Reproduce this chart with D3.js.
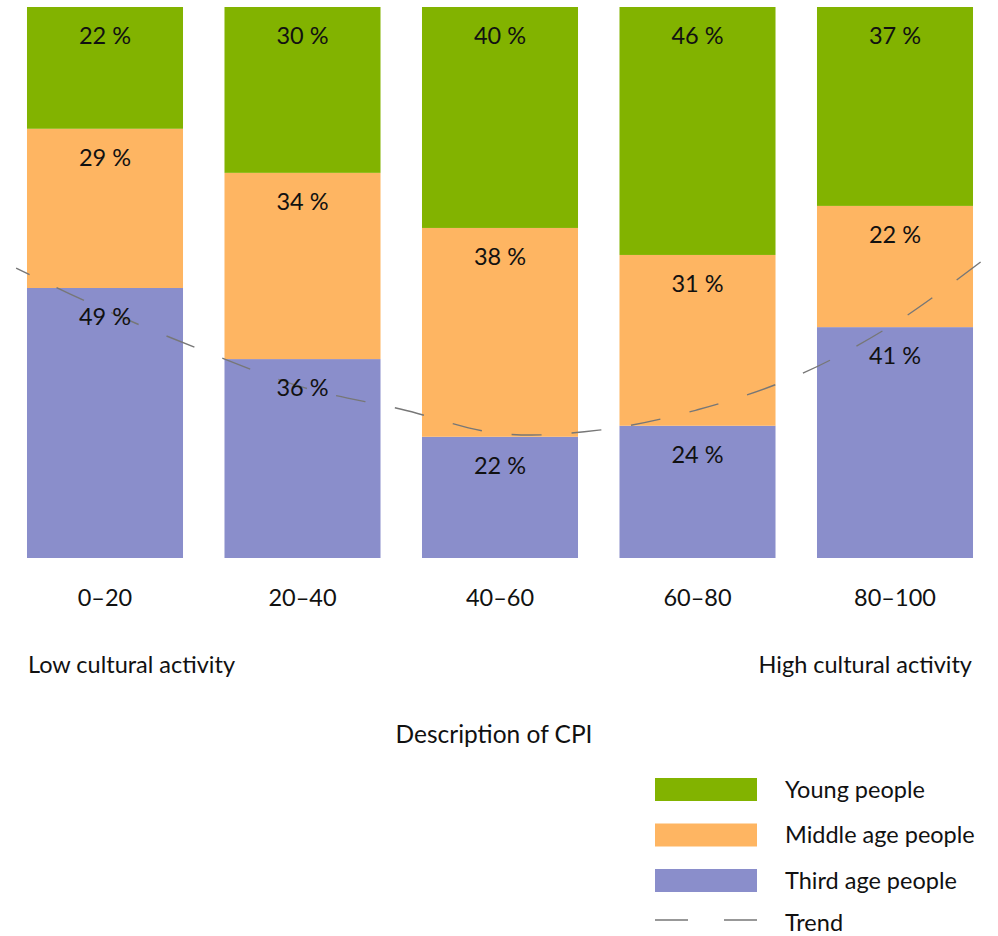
<!DOCTYPE html>
<html>
<head>
<meta charset="utf-8">
<script src="https://cdn.jsdelivr.net/npm/d3@7"></script>
<style>
  body { margin: 0; background: #fff; }
  svg text { font-family: Lato, "Noto Sans", sans-serif; fill: #111; font-size: 23.5px; }
</style>
</head>
<body>
<div id="viz"></div>
<script>
var width = 998;
var height = 936;

// data
var categories = ['0\u201320', '20\u201340', '40\u201360', '60\u201380', '80\u2013100'];
// printed labels
var young = [22, 30, 40, 46, 37];
var middle = [29, 34, 38, 31, 22];
var third = [49, 36, 22, 24, 41];
// segment heights as drawn (percent of bar)
var youngShare = [22.1, 30.1, 40.1, 45, 36.1];
var middleShare = [28.9, 33.8, 37.9, 31, 22];
var thirdShare = [49, 36.1, 22, 24, 41.9];

var seriesNames = ['Young people', 'Middle age people', 'Third age people'];
var seriesColors = ['#82b300', '#feb562', '#8a8ecb'];

// trend line, sampled along category index
var trendIndex = [-0.45, 0, 0.5, 1, 1.5, 2, 2.5, 3, 3.5, 4, 4.48];
var trendValues = [52.6, 45, 37.6, 31, 27, 22.6, 23.2, 26.9, 33, 42.6, 55];

var plotTop = 7, plotBottom = 558;

var svg = d3.select('#viz').append('svg')
  .attr('width', width)
  .attr('height', height);

var x = d3.scaleBand()
  .domain(categories)
  .range([6.25, 993.75])
  .paddingInner(0.21)
  .paddingOuter(0.105);

var y = d3.scaleLinear()
  .domain([0, 100])
  .range([plotBottom, plotTop]);

var rows = categories.map(function (c, i) {
  var total = youngShare[i] + middleShare[i] + thirdShare[i];
  return { cat: c,
    young: youngShare[i] * 100 / total,
    middle: middleShare[i] * 100 / total,
    third: thirdShare[i] * 100 / total,
    labels: { young: young[i], middle: middle[i], third: third[i] } };
});

var keys = ['third', 'middle', 'young'];
var keyColor = { young: seriesColors[0], middle: seriesColors[1], third: seriesColors[2] };

var stacked = d3.stack().keys(keys)(rows);

var layers = svg.selectAll('g.layer')
  .data(stacked).enter()
  .append('g')
  .attr('class', 'layer')
  .style('fill', function (d) { return keyColor[d.key]; });

layers.selectAll('rect')
  .data(function (d) { return d; }).enter()
  .append('rect')
  .attr('x', function (d) { return x(d.data.cat); })
  .attr('y', function (d) { return y(d[1]); })
  .attr('width', x.bandwidth())
  .attr('height', function (d) { return y(d[0]) - y(d[1]); });

// trend
var xi = d3.scaleLinear()
  .domain([0, 4])
  .range([x(categories[0]) + x.bandwidth() / 2, x(categories[4]) + x.bandwidth() / 2]);

var line = d3.line()
  .x(function (d, i) { return xi(trendIndex[i]); })
  .y(function (d) { return y(d); })
  .curve(d3.curveCatmullRom);

svg.append('path')
  .datum(trendValues)
  .attr('d', line)
  .style('fill', 'none')
  .style('stroke', '#777')
  .style('stroke-width', 1.4)
  .style('stroke-dasharray', '30 30')
  .style('stroke-dashoffset', 15);

// value labels
stacked.forEach(function (layer) {
  svg.append('g').selectAll('text')
    .data(layer).enter()
    .append('text')
    .attr('x', function (d) { return x(d.data.cat) + x.bandwidth() / 2; })
    .attr('y', function (d) { return y(d[1]) + 28; })
    .attr('text-anchor', 'middle')
    .attr('dominant-baseline', 'central')
    .text(function (d) { return d.data.labels[layer.key] + ' %'; });
});

// category labels
svg.append('g').selectAll('text')
  .data(categories).enter()
  .append('text')
  .attr('x', function (d) { return x(d) + x.bandwidth() / 2; })
  .attr('y', 597)
  .attr('text-anchor', 'middle')
  .attr('dominant-baseline', 'central')
  .text(function (d) { return d; });

svg.append('text')
  .attr('x', 28).attr('y', 664)
  .attr('dominant-baseline', 'central')
  .text('Low cultural activity');

svg.append('text')
  .attr('x', 972).attr('y', 664)
  .attr('text-anchor', 'end')
  .attr('dominant-baseline', 'central')
  .text('High cultural activity');

svg.append('text')
  .attr('x', 494).attr('y', 733)
  .attr('text-anchor', 'middle')
  .attr('dominant-baseline', 'central')
  .style('font-size', '24.5px')
  .text('Description of CPI');

// legend
var legend = svg.append('g').attr('transform', 'translate(655,778)');
var lg = legend.selectAll('g')
  .data(seriesNames).enter()
  .append('g')
  .attr('transform', function (d, i) { return 'translate(0,' + (i * 45.5) + ')'; });

lg.append('rect')
  .attr('width', 102)
  .attr('height', 23)
  .style('fill', function (d, i) { return seriesColors[i]; });

lg.append('text')
  .attr('x', 130).attr('y', 10.5)
  .attr('dominant-baseline', 'central')
  .text(function (d) { return d; });

var tl = legend.append('g').attr('transform', 'translate(0,142)');
tl.append('line')
  .attr('x1', 0).attr('x2', 102)
  .style('stroke', '#777')
  .style('stroke-width', 1.4)
  .style('stroke-dasharray', '33 36');
tl.append('text')
  .attr('x', 130).attr('y', 2)
  .attr('dominant-baseline', 'central')
  .text('Trend');
</script>
</body>
</html>
